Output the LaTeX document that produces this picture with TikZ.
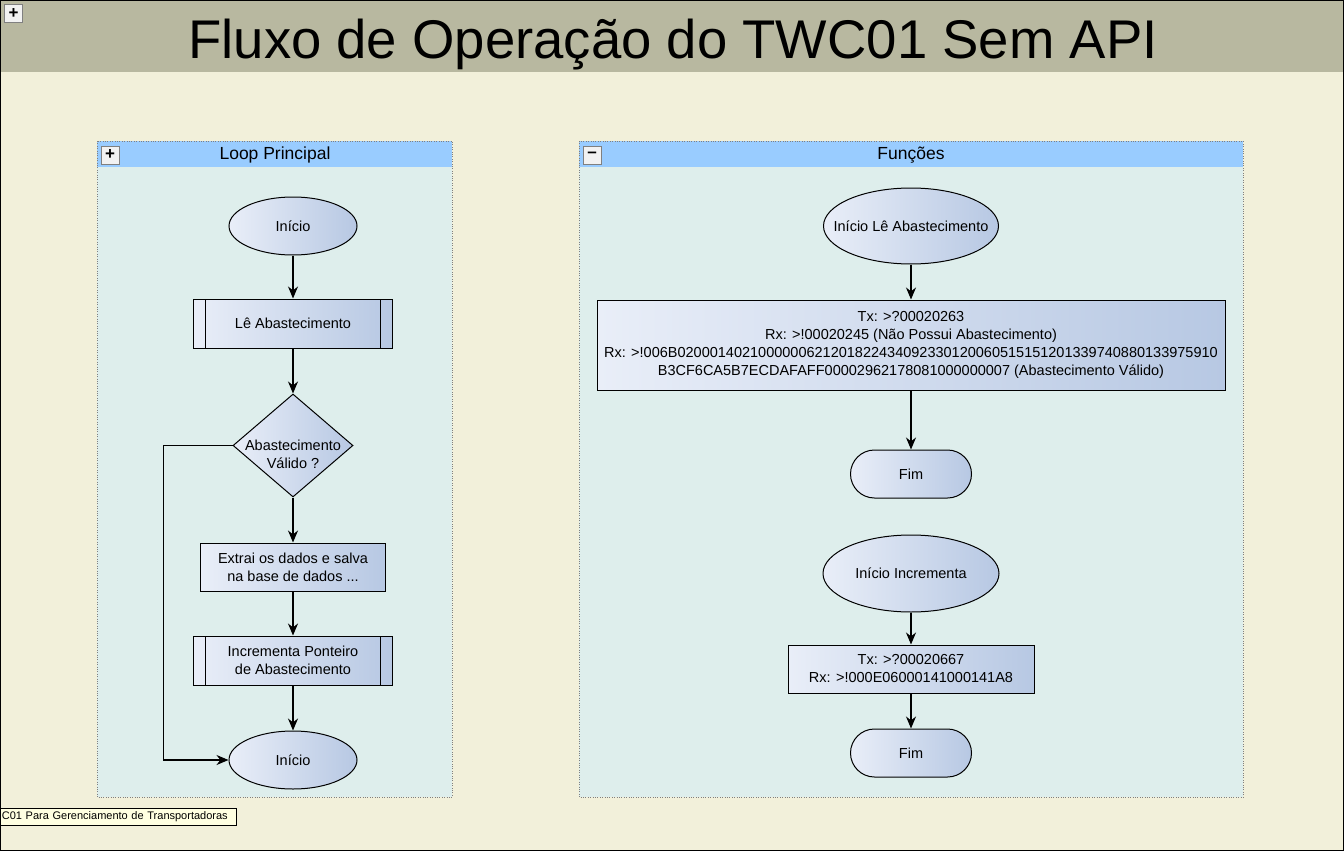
\documentclass[tikz,border=0pt]{standalone}
\usepackage{fontspec}
\setmainfont{Liberation Sans}
\usetikzlibrary{shapes.geometric, arrows.meta, positioning}

\definecolor{canvas}{HTML}{F2F0DA}
\definecolor{titleband}{HTML}{B8B8A0}
\definecolor{poolhead}{HTML}{99CCFF}
\definecolor{poolbody}{HTML}{DEEEEC}
\definecolor{shadeleft}{HTML}{E9EEF8}
\definecolor{shaderight}{HTML}{B7C8E3}
\definecolor{tipfill}{HTML}{FFFFE1}

\tikzset{
  flownode/.style={draw, line width=1pt, left color=shadeleft, right color=shaderight, inner sep=0pt, align=center},
  startend/.style={flownode, ellipse},
  process/.style={flownode, rectangle},
  subproc/.style={process, path picture={
      \draw[line width=1pt] ([xshift=12pt]path picture bounding box.north west) -- ([xshift=12pt]path picture bounding box.south west)
        ([xshift=-12pt]path picture bounding box.north east) -- ([xshift=-12pt]path picture bounding box.south east);}},
  decision/.style={flownode, diamond},
  terminal/.style={flownode, rectangle, rounded corners=24pt},
  flowarrow/.style={-{Stealth[length=12pt,width=10pt]}, line width=1.2pt},
  togglebox/.style={draw=gray, fill=gray!10, minimum size=18pt, inner sep=0pt, font=\bfseries\fontsize{17}{17}\selectfont},
  poolname/.style={font=\fontsize{17.5}{20}\selectfont}
}

\begin{document}
\begin{tikzpicture}[x=1pt, y=-1pt, node distance=44pt, font=\fontsize{14.5}{18}\selectfont]
    \useasboundingbox (0,0) rectangle (1344,851);
    % canvas and title
    \fill[canvas] (0,0) rectangle (1344,851);
    \fill[titleband] (0,0) rectangle (1344,72);
    \draw[line width=1pt] (0.5,0.5) rectangle (1343.5,850.5);
    \node [togglebox] (maintoggle) at (13.5,13.5) {+};
    \node [anchor=base, font=\fontsize{54.5}{60}\selectfont] (title) at (673,58.5) {Fluxo de Operação do TWC01 Sem API};

    % pools
    \fill[poolbody] (97,141) rectangle (452,797);
    \fill[poolhead] (97,141) rectangle (452,167);
    \draw[gray, dotted] (97,141) rectangle (452,797);
    \node [togglebox] (looptoggle) at (110,155) {+};
    \node [poolname] (loophead) at (275,155) {Loop Principal};

    \fill[poolbody] (579,141) rectangle (1243,797);
    \fill[poolhead] (579,141) rectangle (1243,167);
    \draw[gray, dotted] (579,141) rectangle (1243,797);
    \node [togglebox] (functoggle) at (592,155) {--};
    \node [poolname] (funchead) at (911,155) {Funções};

    % loop principal
    \node [startend, minimum width=128pt, minimum height=58pt] (inicio) at (293,226) {Início};
    \node [subproc, minimum width=199pt, minimum height=49pt, below=43pt of inicio] (leabast) {Lê Abastecimento};
    \node [decision, minimum width=120pt, minimum height=103pt, below=45pt of leabast] (valido) {};
    \node [align=center] (validotxt) at ([yshift=-9pt]valido.center) {Abastecimento\\Válido ?};
    \node [process, minimum width=185pt, minimum height=48pt, below=45pt of valido] (extrai) {Extrai os dados e salva\\na base de dados ...};
    \node [subproc, minimum width=199pt, minimum height=49pt, below=of extrai] (incrementa) {Incrementa Ponteiro\\de Abastecimento};
    \node [startend, minimum width=128pt, minimum height=58pt, below=45pt of incrementa] (inicioloop) {Início};

    \draw [flowarrow] (inicio) -- (leabast);
    \draw [flowarrow] (leabast) -- (valido);
    \draw [flowarrow] (valido) -- (extrai);
    \draw [flowarrow] (extrai) -- (incrementa);
    \draw [flowarrow] (incrementa) -- (inicioloop);
    \draw [flowarrow] (valido.west) -- ++(-69,0) |- (inicioloop.west);

    % funcoes
    \node [startend, minimum width=175pt, minimum height=76pt] (inicioleit) at (911,226) {\makebox[0pt]{Início Lê Abastecimento}};
    \node [process, minimum width=628pt, minimum height=90pt, below=35pt of inicioleit] (leitcmd) {Tx: >?00020263\\Rx: >!00020245 (Não Possui Abastecimento)\\Rx: >!006B0200014021000000621201822434092330120060515151201339740880133975910\\B3CF6CA5B7ECDAFAFF00002962178081000000007 (Abastecimento Válido)};
    \node [terminal, minimum width=121pt, minimum height=48pt, below=59pt of leitcmd] (fimleit) {Fim};
    \node [startend, minimum width=176pt, minimum height=77pt, below=36pt of fimleit] (inicioinc) {Início Incrementa};
    \node [process, minimum width=246pt, minimum height=48pt, below=32pt of inicioinc] (inccmd) {Tx: >?00020667\\Rx: >!000E06000141000141A8};
    \node [terminal, minimum width=121pt, minimum height=48pt, below=35pt of inccmd] (fiminc) {Fim};

    \draw [flowarrow] (inicioleit) -- (leitcmd);
    \draw [flowarrow] (leitcmd) -- (fimleit);
    \draw [flowarrow] (inicioinc) -- (inccmd);
    \draw [flowarrow] (inccmd) -- (fiminc);

    % status tip
    \node [draw, fill=tipfill, line width=0.8pt, anchor=north west, text width=233pt, inner xsep=1.5pt, inner ysep=1.5pt, minimum height=17pt, align=left, font=\fontsize{11}{13}\selectfont] (statustip) at (0,808) {\mbox{C01 Para Gerenciamento de Transportadoras}};
\end{tikzpicture}
\end{document}
